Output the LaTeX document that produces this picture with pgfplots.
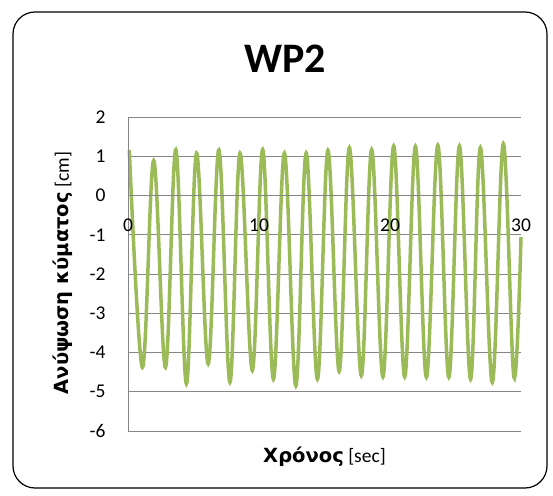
\documentclass[border=0pt]{standalone}
\usepackage{pgfplots}
\pgfplotsset{compat=1.18}
\usepackage{fontspec}
\setmainfont{Carlito}
\newfontfamily\dejavu{DejaVu Sans}
\definecolor{wave}{HTML}{9BBB59}
\definecolor{gridc}{HTML}{868686}
\pgfplotsset{
  layers/labels on top/.define layer set={
    axis background,axis grid,main,axis ticks,axis lines,axis tick labels,axis descriptions,axis foreground
  }{/pgfplots/layers/standard},
}
\begin{document}
\begin{tikzpicture}[x=1pt,y=1pt]
\path (0,0) rectangle (553,495);
\draw[line width=1.2pt, rounded corners=22pt] (13,7) rectangle (547,483);
\node[font=\fontsize{42}{48}\selectfont\bfseries] at (285,436) {WP2};
\begin{axis}[
  set layers=labels on top,
  at={(128pt,64pt)}, anchor=south west,
  scale only axis, width=393pt, height=314pt,
  xmin=0, xmax=30, ymin=-6, ymax=2,
  axis x line*=middle, axis y line*=left,
  hide obscured x ticks=false, hide obscured y ticks=false,
  axis line style={gridc, line width=0.8pt, -},
  xtick={0,10,20,30}, ytick={-6,-5,...,2},
  major tick length=0pt,
  /pgf/number format/assume math mode=true,
  ymajorgrids, grid style={gridc, line width=0.8pt},
  tick label style={font=\fontsize{19.5}{22}\selectfont},
  xticklabel style={anchor=north, yshift=-20pt},
  yticklabel style={anchor=east, xshift=-19pt},
  xlabel={{\dejavu\bfseries Χρόνος} [sec]},
  xlabel style={at={(axis description cs:0.5,0)}, anchor=center, yshift=-25.5pt, font=\fontsize{19.5}{22}\selectfont},
  ylabel={{\dejavu\bfseries Ανύψωση κύματος} [cm]},
  ylabel style={at={(axis description cs:-0.165,0.503)}, anchor=center, font=\fontsize{19.5}{22}\selectfont},
  clip=false,
]
\addplot[wave, line width=3.5pt, smooth, tension=0.6] coordinates {
(0.1,1.16) (1.10,-4.38) (1.96,0.89) (2.86,-4.38) (3.65,1.17) (4.46,-4.80)
(5.23,1.08) (6.12,-4.29) (6.94,1.16) (7.78,-4.76) (8.55,1.08) (9.49,-4.46)
(10.28,1.17) (11.10,-4.68) (11.94,1.08) (12.81,-4.85) (13.60,1.08) (14.46,-4.68)
(15.26,1.15) (16.12,-4.48) (16.90,1.22) (17.81,-4.59) (18.60,1.17) (19.46,-4.62)
(20.28,1.26) (21.12,-4.62) (21.94,1.25) (22.78,-4.63) (23.65,1.28) (24.49,-4.63)
(25.30,1.26) (26.15,-4.68) (26.90,1.22) (27.81,-4.76) (28.65,1.32) (29.46,-4.63)
(30,-1.06)
};
\end{axis}
\end{tikzpicture}
\end{document}
